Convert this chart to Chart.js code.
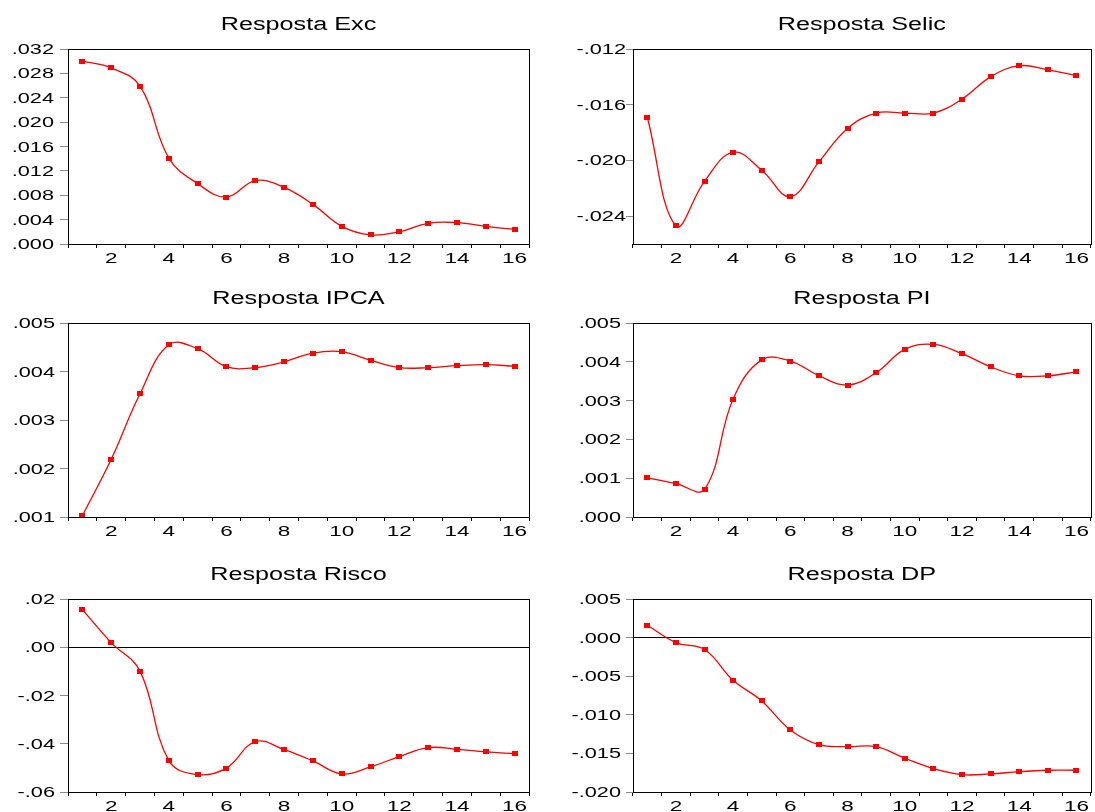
<!DOCTYPE html>
<html>
<head>
<meta charset="utf-8">
<title>Respostas a impulso</title>
<script src="https://cdn.jsdelivr.net/npm/chart.js@4.4.1/dist/chart.umd.min.js"></script>
<style>
  html, body { margin: 0; padding: 0; background: #fff; }
  #board { position: relative; width: 1095px; height: 812px; overflow: hidden; background: #fff; }
  #board canvas { position: absolute; }
</style>
</head>
<body>
<div id="board"></div>
<script>
// Horizon (periods after the shock)
const periods = ['1', '2', '3', '4', '5', '6', '7', '8', '9', '10', '11', '12', '13', '14', '15', '16'];

const titles = ['Resposta Exc', 'Resposta Selic', 'Resposta IPCA', 'Resposta PI', 'Resposta Risco', 'Resposta DP'];

// Impulse responses, one per variable
const excResp   = [0.0300, 0.0289, 0.0259, 0.0141, 0.0099, 0.0077, 0.0104, 0.0093, 0.0065, 0.0029, 0.0015, 0.0020, 0.0034, 0.0035, 0.0029, 0.0024];
const selicResp = [-0.0169, -0.0247, -0.0215, -0.0194, -0.0207, -0.0226, -0.0201, -0.0177, -0.0166, -0.0166, -0.0166, -0.0156, -0.0140, -0.0132, -0.0135, -0.0139];
const ipcaResp  = [0.00103, 0.00219, 0.00354, 0.00455, 0.00447, 0.00410, 0.00408, 0.00420, 0.00438, 0.00441, 0.00423, 0.00408, 0.00408, 0.00412, 0.00414, 0.00411];
const piResp    = [0.00101, 0.00086, 0.00071, 0.00304, 0.00405, 0.00402, 0.00364, 0.00340, 0.00372, 0.00432, 0.00445, 0.00421, 0.00387, 0.00364, 0.00364, 0.00374];
const riscoResp = [0.0156, 0.0019, -0.0099, -0.0470, -0.0528, -0.0501, -0.0391, -0.0424, -0.0471, -0.0525, -0.0496, -0.0453, -0.0416, -0.0423, -0.0434, -0.0442];
const dpResp    = [0.0016, -0.00065, -0.00155, -0.00553, -0.0082, -0.01196, -0.01386, -0.01412, -0.01412, -0.01563, -0.01697, -0.01775, -0.01766, -0.01736, -0.01718, -0.01718];

// Value-axis tick labels
const excTicks   = ['.000', '.004', '.008', '.012', '.016', '.020', '.024', '.028', '.032'];
const selicTicks = ['-.024', '-.020', '-.016', '-.012'];
const ipcaTicks  = ['.001', '.002', '.003', '.004', '.005'];
const piTicks    = ['.000', '.001', '.002', '.003', '.004', '.005'];
const riscoTicks = ['-.06', '-.04', '-.02', '.00', '.02'];
const dpTicks    = ['-.020', '-.015', '-.010', '-.005', '.000', '.005'];

// Axis ranges
const excRange   = [0, 0.032];
const selicRange = [-0.026, -0.012];
const ipcaRange  = [0.001, 0.005];
const piRange    = [0, 0.005];
const riscoRange = [-0.06, 0.02];
const dpRange    = [-0.02, 0.005];

// Grid of panels: columns and rows of the page
const COLS = [
  { x: 0,   w: 547, axisW: 68, padR: 18, tickLen: 8 },
  { x: 547, w: 548, axisW: 86, padR: 0,  tickLen: 7 }
];
const ROWS = [
  { y: 0,   h: 272, top: 49, axisH: 28 },
  { y: 272, h: 281, top: 51, axisH: 36 },
  { y: 553, h: 259, top: 46, axisH: 20 }
];

const panels = [
  { title: titles[0], data: excResp,   ticks: excTicks,   range: excRange,   col: 0, row: 0, gap: 14, zero: false },
  { title: titles[1], data: selicResp, ticks: selicTicks, range: selicRange, col: 1, row: 0, gap: 7,  zero: false },
  { title: titles[2], data: ipcaResp,  ticks: ipcaTicks,  range: ipcaRange,  col: 0, row: 1, gap: 13, zero: false },
  { title: titles[3], data: piResp,    ticks: piTicks,    range: piRange,    col: 1, row: 1, gap: 12, zero: false },
  { title: titles[4], data: riscoResp, ticks: riscoTicks, range: riscoRange, col: 0, row: 2, gap: 13, zero: true },
  { title: titles[5], data: dpResp,    ticks: dpTicks,    range: dpRange,    col: 1, row: 2, gap: 12, zero: true }
];

const RED = '#ff0000';
const FONT = '"Liberation Sans", Arial, Helvetica, sans-serif';

// Small filled rectangle used as the point marker
const marker = document.createElement('canvas');
marker.width = 6;
marker.height = 5;
(function () {
  const m = marker.getContext('2d');
  m.fillStyle = RED;
  m.fillRect(0, 0, 6, 5);
})();

// Text drawn slightly widened horizontally
function wideText(ctx, text, x, y, align, sx) {
  ctx.save();
  ctx.translate(x, y);
  ctx.scale(sx, 1);
  ctx.textAlign = align;
  ctx.textBaseline = 'alphabetic';
  ctx.fillText(text, 0, 0);
  ctx.restore();
}

// Frame around the plot, panel title and axis labels
const panelDecor = {
  id: 'panelDecor',
  beforeDatasetsDraw(chart) {
    const { ctx, chartArea: a } = chart;
    const l = Math.round(a.left), t = Math.round(a.top);
    const r = Math.round(a.right), b = Math.round(a.bottom);
    ctx.save();
    ctx.strokeStyle = '#000';
    ctx.lineWidth = 1;
    ctx.strokeRect(l + 0.5, t + 0.5, r - l, b - t);
    ctx.restore();
  },
  afterDraw(chart, _args, opts) {
    const { ctx, chartArea: a, scales } = chart;
    ctx.save();
    ctx.fillStyle = '#000';

    ctx.font = '18px ' + FONT;
    wideText(ctx, opts.title, (a.left + a.right) / 2, a.top - 19.5, 'center', 1.4);

    ctx.font = '14px ' + FONT;
    opts.yLabels.forEach(lbl => {
      const y = scales.y.getPixelForValue(Number(lbl));
      wideText(ctx, lbl, a.left - opts.gap, y + 5, 'right', 1.55);
    });

    ctx.font = '15px ' + FONT;
    scales.x.ticks.forEach((tk, i) => {
      const lbl = scales.x.getLabelForValue(tk.value);
      if (Number(lbl) % 2 !== 0) return;
      wideText(ctx, lbl, scales.x.getPixelForTick(i), a.bottom + 19, 'center', 1.5);
    });
    ctx.restore();
  }
};

const board = document.getElementById('board');

panels.forEach(p => {
  const c = COLS[p.col], r = ROWS[p.row];
  const canvas = document.createElement('canvas');
  canvas.width = c.w;
  canvas.height = r.h;
  canvas.style.left = c.x + 'px';
  canvas.style.top = r.y + 'px';
  board.appendChild(canvas);

  const tickValues = p.ticks.map(Number);

  new Chart(canvas, {
    type: 'line',
    data: {
      labels: periods,
      datasets: [{
        data: p.data,
        borderColor: RED,
        borderWidth: 1.3,
        tension: 0.4,
        fill: false,
        pointStyle: marker,
        pointRadius: 3,
        pointHoverRadius: 3
      }]
    },
    options: {
      responsive: false,
      devicePixelRatio: 1,
      animation: false,
      events: [],
      layout: { padding: { left: 0, right: c.padR, top: r.top, bottom: 0 } },
      plugins: {
        legend: { display: false },
        title: { display: false },
        tooltip: { enabled: false },
        panelDecor: { title: p.title, yLabels: p.ticks, gap: p.gap }
      },
      scales: {
        x: {
          type: 'category',
          offset: true,
          border: { display: false },
          grid: {
            display: true,
            offset: true,
            drawOnChartArea: false,
            drawTicks: true,
            tickLength: 4,
            tickColor: '#000',
            tickWidth: 1
          },
          ticks: { display: false, autoSkip: false },
          afterFit: s => { s.height = r.axisH; }
        },
        y: {
          type: 'linear',
          min: p.range[0],
          max: p.range[1],
          border: { display: false },
          grid: {
            display: true,
            drawOnChartArea: true,
            drawTicks: true,
            tickLength: c.tickLen,
            tickColor: '#8a8a8a',
            tickWidth: 1,
            lineWidth: 1,
            color: ctx => (p.zero && ctx.tick && ctx.tick.value === 0) ? '#000' : 'rgba(0,0,0,0)'
          },
          ticks: { display: false },
          afterBuildTicks: s => { s.ticks = tickValues.map(v => ({ value: v })); },
          afterFit: s => { s.width = c.axisW; }
        }
      }
    },
    plugins: [panelDecor]
  });
});
</script>
</body>
</html>
